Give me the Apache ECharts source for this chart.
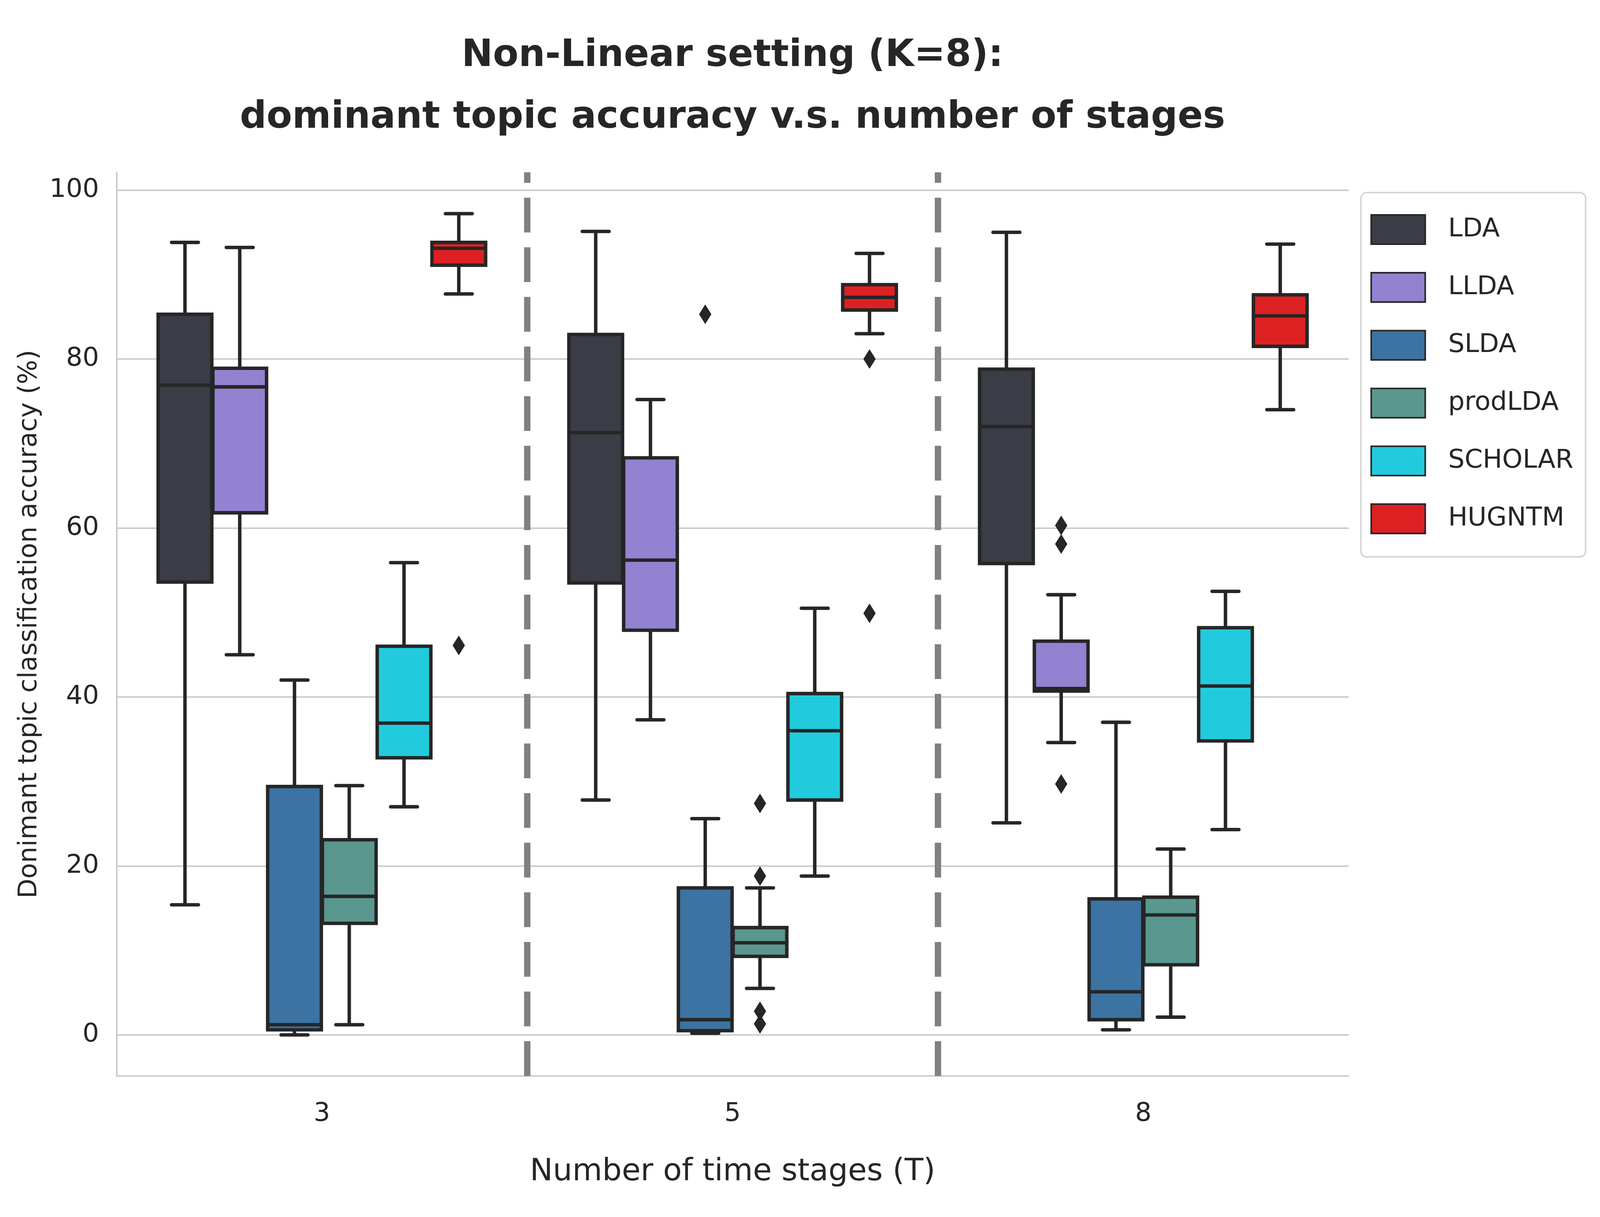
<!DOCTYPE html>
<html>
<head>
<meta charset="utf-8">
<script src="https://cdn.jsdelivr.net/npm/echarts@6/dist/echarts.min.js"></script>
<style>
html,body{margin:0;padding:0;background:#ffffff;overflow:hidden;}
#chart{width:100vw;height:100vh;}
</style>
</head>
<body>
<div id="chart"></div>
<script>
// ---------- data ----------
const categories = ['3', '5', '8'];
const methods = ['LDA', 'LLDA', 'SLDA', 'prodLDA', 'SCHOLAR', 'HUGNTM'];
const methodColors = ['#3a3d45', '#9381d1', '#3c73a2', '#5a978e', '#21cbdd', '#dd2123'];
const yTicks = [0, 20, 40, 60, 80, 100];

// per category: [lower whisker, Q1, median, Q3, upper whisker]
const LDA     = [[15.4, 53.6, 76.9, 85.3, 93.8], [27.8, 53.5, 71.3, 82.9, 95.1], [25.1, 55.8, 72.0, 78.8, 95.0]];
const LLDA    = [[45.0, 61.8, 76.7, 78.9, 93.2], [37.3, 47.9, 56.2, 68.3, 75.2], [34.6, 40.7, 41.0, 46.6, 52.1]];
const SLDA    = [[0.0, 0.6, 1.2, 29.4, 42.0], [0.2, 0.5, 1.8, 17.4, 25.6], [0.6, 1.8, 5.1, 16.1, 37.0]];
const prodLDA = [[1.2, 13.2, 16.4, 23.1, 29.5], [5.5, 9.3, 10.9, 12.7, 17.4], [2.1, 8.3, 14.2, 16.3, 22.0]];
const SCHOLAR = [[27.0, 32.8, 36.9, 46.0, 55.9], [18.8, 27.8, 36.0, 40.4, 50.5], [24.3, 34.8, 41.3, 48.2, 52.5]];
const HUGNTM  = [[87.7, 91.1, 93.1, 93.8, 97.2], [83.0, 85.8, 87.3, 88.8, 92.5], [74.0, 81.5, 85.1, 87.6, 93.6]];

// outliers per category
const LDA_out     = [[], [], []];
const LLDA_out    = [[], [], [60.3, 58.1, 29.7]];
const SLDA_out    = [[], [85.3], []];
const prodLDA_out = [[], [27.4, 18.8, 2.8, 1.3], []];
const SCHOLAR_out = [[], [], []];
const HUGNTM_out  = [[46.1], [80.0, 49.9], []];

const boxStats = [LDA, LLDA, SLDA, prodLDA, SCHOLAR, HUGNTM];
const outliers = [LDA_out, LLDA_out, SLDA_out, prodLDA_out, SCHOLAR_out, HUGNTM_out];

const Y_MIN = -4.86, Y_MAX = 102.1;
const INK = '#262626';
const FONT = 'DejaVu Sans';

// ---------- layout scale (design size 6042 x 3115) ----------
const W = window.innerWidth, H = window.innerHeight;
const SX = W / 6042, SY = H / 3115;
const X = v => v * SX;          // horizontal positions / sizes
const Y = v => v * SY;          // vertical positions / sizes
const F = v => v * SX;          // font sizes and line widths

// ---------- rendering ----------
function boxRenderer(m) {
  return function (params, api) {
    const cat = api.value(0);
    const center = api.coord([cat, 0])[0];
    const band = api.size([1, 0])[0];
    const slot = band * 0.8 / methods.length;
    const cx = center + (m - (methods.length - 1) / 2) * slot;
    const w = slot * 0.98;
    const py = v => api.coord([cat, v])[1];
    const yLo = py(api.value(1)), yQ1 = py(api.value(2)), yMed = py(api.value(3)),
          yQ3 = py(api.value(4)), yHi = py(api.value(5));
    const lw = F(13);
    const ls = {stroke: INK, lineWidth: lw, fill: null};
    const cap = Object.assign({}, ls, {lineCap: 'round'});
    const children = [
      {type: 'line', shape: {x1: cx, y1: yQ1, x2: cx, y2: yLo}, style: ls},
      {type: 'line', shape: {x1: cx, y1: yQ3, x2: cx, y2: yHi}, style: ls},
      {type: 'line', shape: {x1: cx - w / 4, y1: yLo, x2: cx + w / 4, y2: yLo}, style: cap},
      {type: 'line', shape: {x1: cx - w / 4, y1: yHi, x2: cx + w / 4, y2: yHi}, style: cap},
      {type: 'rect', shape: {x: cx - w / 2, y: yQ3, width: w, height: yQ1 - yQ3},
        style: {fill: methodColors[m], stroke: INK, lineWidth: lw}},
      {type: 'line', shape: {x1: cx - w / 2, y1: yMed, x2: cx + w / 2, y2: yMed}, style: ls}
    ];
    const outs = outliers[m][cat] || [];
    const hw = F(22.5), hh = F(36);
    outs.forEach(v => {
      const oy = py(v);
      children.push({type: 'polygon',
        shape: {points: [[cx, oy - hh], [cx + hw, oy], [cx, oy + hh], [cx - hw, oy]]},
        style: {fill: INK, stroke: INK, lineWidth: 1}});
    });
    return {type: 'group', children: children};
  };
}

const dividers = categories.slice(1).map((c, i) => i + 0.5);

const series = methods.map((name, m) => ({
  name: name,
  type: 'custom',
  xAxisIndex: 0,
  yAxisIndex: 0,
  renderItem: boxRenderer(m),
  itemStyle: {color: methodColors[m]},
  encode: {x: 0, y: [1, 2, 3, 4, 5]},
  data: boxStats[m].map((v, i) => [i].concat(v)),
  z: 3,
  silent: true
}));

series.push({
  name: 'dividers',
  type: 'custom',
  xAxisIndex: 1,
  yAxisIndex: 0,
  silent: true,
  z: 2,
  renderItem: function (params, api) {
    const x = api.value(0);
    const p0 = api.coord([x, Y_MIN]);
    const p1 = api.coord([x, Y_MAX]);
    return {type: 'line', shape: {x1: p0[0], y1: p0[1], x2: p1[0], y2: p1[1]},
      style: {stroke: '#808080', lineWidth: F(24), lineDash: [Y(89), Y(38)]}};
  },
  encode: {x: 0},
  data: dividers.map(d => [d])
});

const chart = echarts.init(document.getElementById('chart'), null, {renderer: 'canvas', width: W, height: H});
chart.setOption({
  backgroundColor: '#ffffff',
  animation: false,
  textStyle: {fontFamily: FONT},
  graphic: [{
    type: 'text',
    x: X(2766),
    y: Y(172) - Y(79) - F(141) * 0.29,
    silent: true,
    style: {
      text: 'Non-Linear setting (K=8):\ndominant topic accuracy v.s. number of stages',
      fill: INK,
      font: 'bold ' + F(141) + 'px "DejaVu Sans"',
      lineHeight: Y(158),
      align: 'center',
      verticalAlign: 'top'
    }
  }],
  grid: {left: X(440), right: X(949), top: Y(441), bottom: Y(361), containLabel: false},
  legend: {
    orient: 'vertical',
    left: X(5139),
    top: Y(493),
    padding: [Y(55), X(46), Y(58), X(36)],
    backgroundColor: '#ffffff',
    borderColor: '#d6d6d6',
    borderWidth: F(6),
    borderRadius: F(22),
    itemWidth: X(204),
    itemHeight: Y(75),
    itemGap: Y(69),
    selectedMode: false,
    textStyle: {fontSize: F(98), color: INK, fontFamily: FONT, lineHeight: Y(75),
      padding: [0, 0, 0, X(79)]},
    data: methods.map((name, m) => ({
      name: name,
      icon: 'rect',
      itemStyle: {color: methodColors[m], borderColor: INK, borderWidth: F(6)}
    }))
  },
  xAxis: [{
    type: 'category',
    data: categories,
    boundaryGap: true,
    name: 'Number of time stages (T)',
    nameLocation: 'middle',
    nameGap: Y(3000 - 2754) - F(116) * 0.39 - F(116) * 0.1,
    nameTextStyle: {fontSize: F(116), color: INK, fontFamily: FONT},
    axisLine: {show: true, onZero: false, lineStyle: {color: '#cccccc', width: F(6)}},
    axisTick: {show: false},
    axisLabel: {fontSize: F(98), color: INK, fontFamily: FONT,
      margin: Y(2853 - 2754) - F(98) * 0.52},
    splitLine: {show: false}
  }, {
    type: 'value',
    min: -0.5,
    max: categories.length - 0.5,
    show: false,
    axisLine: {onZero: false},
    splitLine: {show: false}
  }],
  yAxis: {
    type: 'value',
    min: Y_MIN,
    max: Y_MAX,
    splitNumber: 5,
    name: 'Donimant topic classification accuracy (%)',
    nameLocation: 'middle',
    nameGap: X(440 - 107) - F(97) * 0.55,
    nameTextStyle: {fontSize: F(97), color: INK, fontFamily: FONT},
    axisLine: {show: true, onZero: false, lineStyle: {color: '#cccccc', width: F(6)}},
    axisTick: {show: false},
    axisLabel: {
      fontSize: F(98), color: INK, margin: X(66), fontFamily: FONT,
      customValues: yTicks
    },
    splitLine: {show: true, showMinLine: false, showMaxLine: false,
      lineStyle: {color: '#cccccc', width: F(6)}}
  },
  series: series
});
</script>
</body>
</html>
